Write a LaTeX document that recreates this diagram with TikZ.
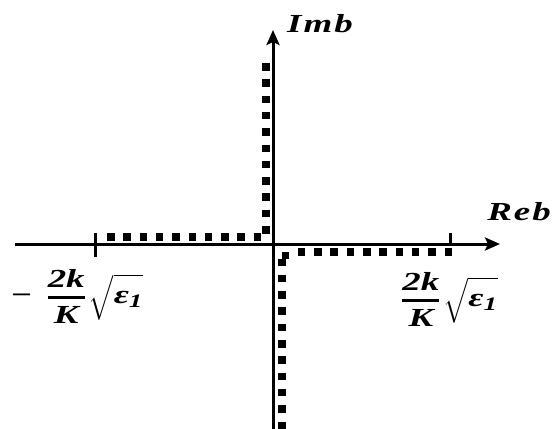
\documentclass[tikz,border=0pt]{standalone}
\usepackage{amsmath}
\usepackage{fontspec}
\usetikzlibrary{arrows.meta}
\newfontfamily\lblfont[FakeStretch=1.42]{Liberation Serif}
\newcommand{\myfrac}{\genfrac{}{}{2.4pt}{0}{\text{2k}}{\text{K}}}
\newcommand{\myroot}{\sqrt{\rule[-15pt]{0pt}{40pt}\text{ε}_{\text{\fontsize{19}{19}\selectfont 1}}}}
\begin{document}
\begin{tikzpicture}[x=1pt,y=-1pt,
  axis/.style={line width=3pt,-{Stealth[length=15pt,width=13pt,inset=3pt]}},
  tickmark/.style={line width=3pt},
  dots/.style={line width=7.5pt,dash pattern=on 7.5pt off 8.8pt},
  lbl/.style={inner sep=0pt,font=\lblfont\bfseries\itshape\fontsize{26}{30}\selectfont}]
\useasboundingbox (0,0) rectangle (553,428);
% axes
\coordinate (xs) at (15,244);
\coordinate (xe) at (500,244);
\coordinate (ys) at (273,430);
\coordinate (ye) at (273,30);
\draw[axis] (xs) -- (xe);
\draw[axis] (ys) -- (ye);
% ticks
\coordinate (tl1) at (95,233); \coordinate (tl2) at (95,257);
\coordinate (tr1) at (450,233); \coordinate (tr2) at (450,246);
\draw[tickmark] (tl1) -- (tl2);
\draw[tickmark] (tr1) -- (tr2);
% dotted branches
\draw[dots] (266,63) -- (266,240);
\draw[dots] (107,237) -- (262,237);
\draw[dots] (452,252) -- (294,252);
\fill (281.5,251.5) rectangle (289,259);
\draw[dots] (282,258.5) -- (282,432);
% labels
\node[lbl] (im) at (320,24) {I\kern2pt m\kern2pt b};
\node[lbl] (re) at (519,212) {R\kern2pt e\kern2pt b};
\node[lbl,anchor=west] (lneg) at (10,296) {$\text{−}\hspace{14pt}\myfrac\hspace{3pt}\myroot$};
\node[lbl,anchor=west] (rpos) at (401,299) {$\myfrac\hspace{3pt}\myroot$};
\end{tikzpicture}
\end{document}
